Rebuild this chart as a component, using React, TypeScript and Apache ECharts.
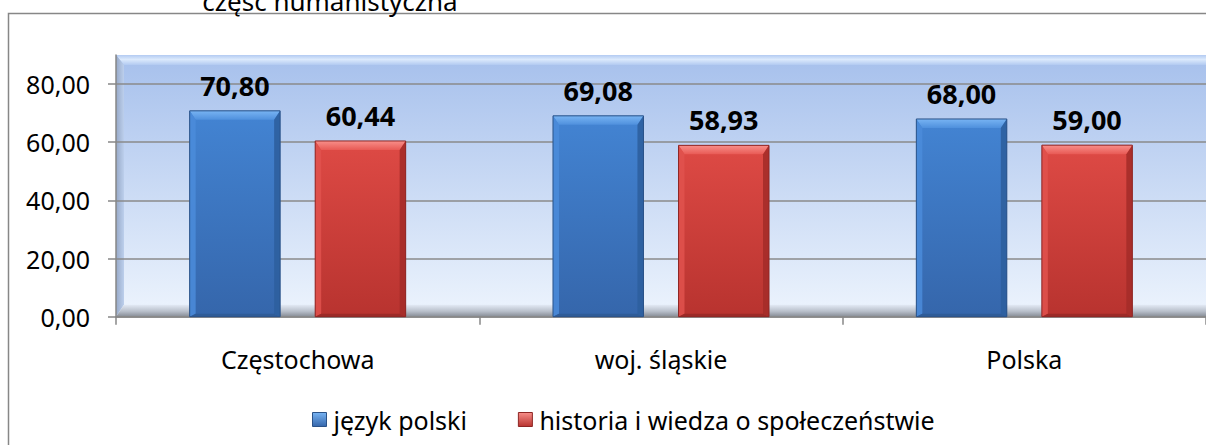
import React, { useEffect, useRef } from "react";
import * as echarts from "echarts";

const categories = ["Częstochowa", "woj. śląskie", "Polska"];
const seriesNames = ["język polski", "historia i wiedza o społeczeństwie"];
const jezykPolski = [70.8, 69.08, 68.0];
const historia = [60.44, 58.93, 59.0];
const yTickValues = [0, 20, 40, 60, 80];
const titleText = "część humanistyczna";

const FONT = "'Noto Sans', sans-serif";
const fmt = (v: number) => v.toFixed(2).replace(".", ",");

const GRID = { left: 116, top: 55, width: 1098, height: 261.7 };
const BAR_W = 0.249;
const BAR_GAP = 0.0965;

const palettes = [
  {
    face: ["#4384d3", "#3566ab"],
    top: ["#78b4f3", "#4f90dd"],
    left: "#4b8cda",
    right: "#2d5f9f",
    bottom: "#2f5c98",
    stroke: "#2a5288",
    legend: "#3b74c0",
  },
  {
    face: ["#de4a45", "#b8332f"],
    top: ["#f88f8a", "#e85a55"],
    left: "#e0524d",
    right: "#a52c29",
    bottom: "#9c2a27",
    stroke: "#8e2624",
    legend: "#cc3d39",
  },
];

const vgrad = (a: string, b: string) =>
  new echarts.graphic.LinearGradient(0, 0, 0, 1, [
    { offset: 0, color: a },
    { offset: 1, color: b },
  ]);

function makeRender(idx: number) {
  const p = palettes[idx];
  return (params: any, api: any) => {
    const ci = api.value(0);
    const v = api.value(1);
    const band = api.size([1, 0])[0];
    const w = band * BAR_W;
    const g = band * BAR_GAP;
    const base = api.coord([ci, 0]);
    const topPt = api.coord([ci, v]);
    const cx = base[0] + (idx === 0 ? -(g / 2 + w / 2) : g / 2 + w / 2);
    const x0 = cx - w / 2;
    const x1 = cx + w / 2;
    const y0 = topPt[1];
    const y1 = base[1];
    const b = 9;
    const s = 6;
    return {
      type: "group",
      children: [
        {
          type: "rect",
          shape: { x: x0, y: y0, width: w, height: y1 - y0 },
          style: { fill: vgrad(p.face[0], p.face[1]) },
        },
        {
          type: "polygon",
          shape: { points: [[x0, y0], [x1, y0], [x1 - s, y0 + b], [x0 + s, y0 + b]] },
          style: { fill: vgrad(p.top[0], p.top[1]) },
        },
        {
          type: "polygon",
          shape: { points: [[x0, y0], [x0 + s, y0 + b], [x0 + s, y1 - 3], [x0, y1]] },
          style: { fill: p.left, opacity: 0.85 },
        },
        {
          type: "polygon",
          shape: { points: [[x1, y0], [x1 - s, y0 + b], [x1 - s, y1 - 3], [x1, y1]] },
          style: { fill: p.right, opacity: 0.9 },
        },
        {
          type: "polygon",
          shape: { points: [[x0, y1], [x0 + s, y1 - 3], [x1 - s, y1 - 3], [x1, y1]] },
          style: { fill: p.bottom },
        },
        {
          type: "rect",
          shape: { x: x0, y: y0, width: w, height: y1 - y0 },
          style: { fill: "none", stroke: p.stroke, lineWidth: 1 },
        },
        {
          type: "text",
          style: {
            text: fmt(v),
            x: cx,
            y: y0 - 12,
            align: "center",
            verticalAlign: "bottom",
            font: `bold 27px ${FONT}`,
            fill: "#000",
          },
        },
      ],
    };
  };
}

export default function App() {
  const ref = useRef<HTMLDivElement>(null);
  useEffect(() => {
    if (!ref.current) return;
    const chart = echarts.init(ref.current, undefined, { renderer: "svg" });
    const gx0 = GRID.left;
    const gy0 = GRID.top;
    const gx1 = GRID.left + GRID.width;
    const gy1 = GRID.top + GRID.height;
    const bv = 8;
    const option: any = {
      animation: false,
      backgroundColor: "#ffffff",
      grid: { ...GRID, containLabel: false },
      graphic: [
        {
          type: "rect",
          z: -10,
          shape: { x: 8.5, y: 13.5, width: 1220, height: 460 },
          style: { fill: "none", stroke: "#878787", lineWidth: 1.5 },
        },
        {
          type: "text",
          z: -10,
          style: {
            text: titleText,
            x: 330,
            y: 0.5,
            align: "center",
            verticalAlign: "middle",
            font: `26px ${FONT}`,
            fill: "#000",
          },
        },
        {
          type: "rect",
          z: -10,
          shape: { x: gx0, y: gy0, width: GRID.width, height: GRID.height },
          style: { fill: vgrad("#a6c0ec", "#edf4fd") },
        },
        {
          type: "polygon",
          z: -9,
          shape: { points: [[gx0, gy0], [gx1, gy0], [gx1 - bv, gy0 + 10], [gx0 + bv, gy0 + 10]] },
          style: {
            fill: new echarts.graphic.LinearGradient(0, 0, 0, 1, [
              { offset: 0, color: "#b3cbf2" },
              { offset: 0.45, color: "#dbe9fc" },
              { offset: 1, color: "#b2caf1" },
            ]),
          },
        },
        {
          type: "polygon",
          z: -9,
          shape: { points: [[gx0, gy0], [gx0 + bv, gy0 + 10], [gx0 + bv, gy1 - 12], [gx0, gy1]] },
          style: {
            fill: new echarts.graphic.LinearGradient(0, 0, 1, 0, [
              { offset: 0, color: "#97a9c8" },
              { offset: 1, color: "#bccfec" },
            ]),
          },
        },
        {
          type: "polygon",
          z: -9,
          shape: { points: [[gx0, gy1], [gx0 + bv, gy1 - 12], [gx1 - bv, gy1 - 12], [gx1, gy1]] },
          style: {
            fill: new echarts.graphic.LinearGradient(0, 0, 0, 1, [
              { offset: 0, color: "#e3eaf5" },
              { offset: 0.55, color: "#b8bfca" },
              { offset: 1, color: "#868c95" },
            ]),
          },
        },
      ],
      legend: {
        left: 307,
        top: 402,
        icon: "rect",
        itemWidth: 14,
        itemHeight: 14,
        itemGap: 51,
        textStyle: {
          fontFamily: FONT,
          fontSize: 25,
          color: "#000",
          padding: [0, 0, 0, 2],
        },
        data: seriesNames.map((n, i) => ({
          name: n,
          itemStyle: {
            color: vgrad(palettes[i].top[0], palettes[i].face[1]),
            borderColor: palettes[i].stroke,
            borderWidth: 1,
          },
        })),
      },
      xAxis: {
        type: "category",
        data: categories,
        boundaryGap: true,
        axisLine: { show: true, lineStyle: { color: "#878787", width: 1.5 } },
        axisTick: { show: true, length: 8, lineStyle: { color: "#878787", width: 1.5 } },
        axisLabel: { margin: 30, fontFamily: FONT, fontSize: 25, color: "#000" },
        splitLine: { show: false },
      },
      yAxis: {
        type: "value",
        min: 0,
        max: 90,
        interval: 20,
        axisLine: { show: true, lineStyle: { color: "#878787", width: 1.5 } },
        axisTick: {
          show: true,
          length: 8,
          customValues: yTickValues,
          lineStyle: { color: "#878787", width: 1.5 },
        },
        axisLabel: {
          margin: 26,
          customValues: yTickValues,
          formatter: (v: number) => fmt(v),
          fontFamily: FONT,
          fontSize: 25,
          color: "#000",
        },
        splitLine: { show: true, lineStyle: { color: "#8a8a8a", width: 1.5 } },
      },
      series: [
        {
          name: seriesNames[0],
          type: "custom",
          itemStyle: { color: palettes[0].legend },
          encode: { x: 0, y: 1 },
          data: jezykPolski.map((v, i) => [i, v]),
          renderItem: makeRender(0),
        },
        {
          name: seriesNames[1],
          type: "custom",
          itemStyle: { color: palettes[1].legend },
          encode: { x: 0, y: 1 },
          data: historia.map((v, i) => [i, v]),
          renderItem: makeRender(1),
        },
      ],
    };
    chart.setOption(option);
    return () => chart.dispose();
  }, []);
  return (
    <div
      ref={ref}
      style={{ position: "absolute", left: 0, top: 0, width: 1206, height: 445 }}
    />
  );
}
